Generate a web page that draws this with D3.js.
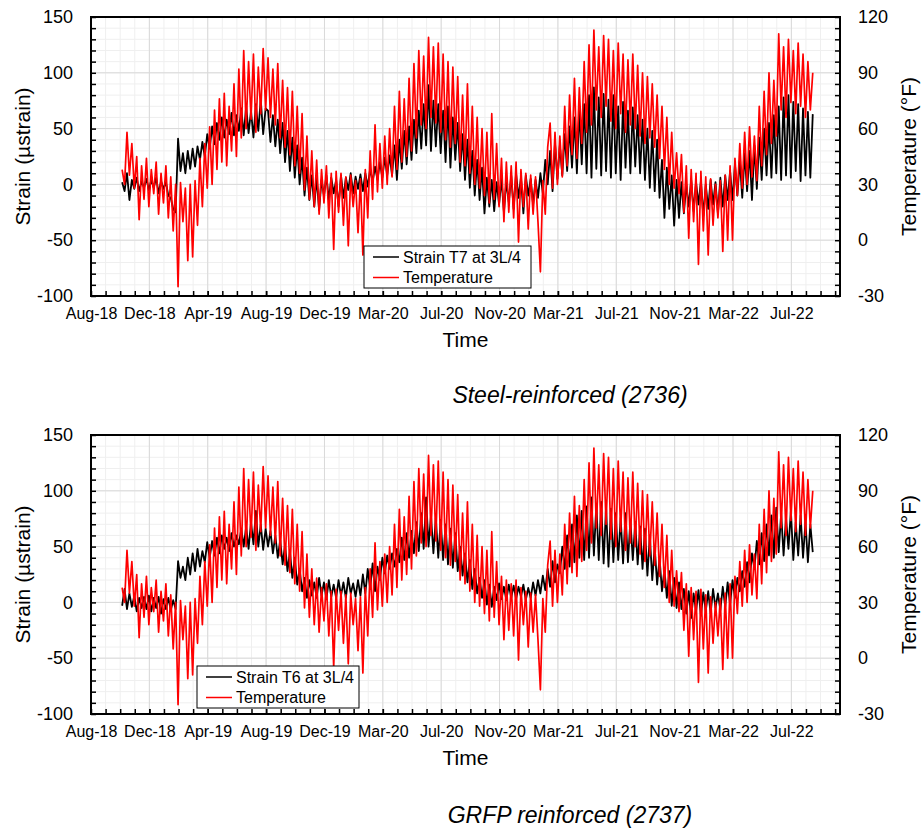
<!DOCTYPE html>
<html>
<head>
<meta charset="utf-8">
<script src="https://cdn.jsdelivr.net/npm/d3@7"></script>
<style>
  body { margin: 0; background: #fff; }
  svg { display: block; font-family: "Liberation Sans", Arial, sans-serif; }
</style>
</head>
<body>
<svg id="chart" width="921" height="831"></svg>
<script>
// x axis: day-based, ticks every 120 days from Aug 8 2018
const axisStart = "2018-08-08";
const axisDays = 1540;
const tickStepDays = 120;
const minorStepDays = 30;

// readings every 5 days from Oct 11 2018 (alternating peaks/troughs)
const sampleStart = "2018-10-11";
const sampleStepDays = 5;

const strainTicks = [-100, -50, 0, 50, 100, 150];
const tempTicks = [-30, 0, 30, 60, 90, 120];

// temperature (°F), same record in both panels
const temperature = [
  38, 30, 58, 35, 52, 28, 45, 11, 40, 22,
  44, 18, 38, 25, 42, 14, 36, 20, 40, 12,
  34, 5, 30, -25, 31, 10, 28, -11, 30, -9,
  32, 8, 44, 18, 52, 28, 61, 30, 70, 38,
  76, 42, 79, 40, 72, 48, 84, 45, 92, 55,
  102, 60, 96, 65, 100, 58, 93, 68, 103, 70,
  98, 66, 92, 62, 95, 55, 86, 50, 82, 46,
  80, 40, 72, 36, 68, 27, 56, 22, 48, 18,
  43, 14, 38, 20, 40, 12, 36, -5, 37, 15,
  36, 8, 34, -3, 35, 18, 32, 4, 33, -8,
  38, 12, 48, 22, 62, 26, 52, 28, 56, 30,
  60, 34, 72, 38, 80, 42, 76, 45, 87, 48,
  95, 55, 102, 62, 99, 60, 109, 66, 104, 63,
  106, 58, 100, 54, 96, 50, 93, 52, 88, 42,
  78, 40, 84, 36, 72, 30, 66, 28, 60, 24,
  58, 20, 68, 22, 52, 18, 44, 10, 42, 15,
  40, 12, 42, -1, 38, 18, 36, 6, 35, 14,
  34, 10, -17, 32, 14, 50, 63, 28, 58, 30,
  56, 34, 72, 40, 78, 46, 87, 44, 82, 52,
  96, 58, 105, 62, 113, 70, 104, 66, 110, 72,
  108, 64, 102, 60, 106, 68, 100, 58, 97, 62,
  100, 60, 94, 56, 90, 52, 88, 55, 84, 50,
  78, 44, 72, 38, 66, 30, 58, 28, 47, 25,
  46, 15, 40, 1, 38, 10, 36, -13, 37, 5,
  34, -8, 33, 8, 30, 12, 32, -6, 35, 0,
  40, 0, 44, 24, 52, 28, 58, 30, 61, 34,
  56, 32, 72, 40, 80, 46, 90, 52, 86, 56,
  111, 70, 104, 66, 108, 74, 102, 68, 106, 72,
  100, 66, 96, 70, 90
];

// strain T7 at 3L/4, steel-reinforced (µstrain)
const strainT7 = [
  2, -6, 10, -14, 4, -4, 6, -6, 3, -3,
  5, -5, 4, -3, 6, -8, 3, -4, 2, -10,
  -12, -22, -25, 41, 12, 28, 10, 30, 14, 32,
  16, 34, 22, 38, 25, 45, 32, 52, 36, 55,
  40, 60, 42, 58, 45, 64, 44, 62, 48, 68,
  44, 70, 46, 66, 42, 72, 48, 76, 45, 68,
  66, 38, 62, 34, 58, 28, 55, 20, 48, 12,
  42, 6, 35, 0, 24, -10, 15, -14, 8, -20,
  6, -23, 4, -10, 8, -14, 6, -8, 4, -20,
  8, -12, 6, -5, 10, -8, 7, -4, 9, -6,
  10, -2, 14, 2, 16, 4, 20, 6, 24, 8,
  26, 8, 35, 4, 40, 14, 48, 18, 52, 22,
  58, 28, 66, 32, 72, 35, 89, 30, 75, 34,
  72, 28, 66, 20, 70, 15, 60, 22, 55, 12,
  45, 4, 40, -3, 30, -10, 22, -14, 15, -26,
  6, -20, 4, -24, 2, -18, 5, -25, 3, -16,
  8, -22, 10, -12, 6, -26, 8, -10, 5, -18,
  4, -12, 10, -8, 22, 0, 30, -6, 37, 5,
  35, 8, 45, 12, 52, 15, 60, 10, 68, 18,
  72, 10, 80, 6, 87, 14, 78, 8, 81, 12,
  76, 6, 80, 10, 70, 4, 74, 15, 66, 10,
  69, 16, 62, 10, 58, 4, 50, -3, 48, -6,
  40, -12, 22, -30, 15, -22, 8, -37, 4, -30,
  2, -26, 0, -20, 4, -24, 2, -18, 3, -28,
  0, -22, 4, -18, 2, -26, 6, -20, 8, -14,
  12, -14, 18, -10, 22, -12, 28, -6, 30, -14,
  35, -4, 42, 4, 50, 8, 55, 6, 62, 10,
  70, 4, 78, 8, 80, 6, 74, 12, 72, 3,
  68, 8, 65, 6, 63
];

// strain T6 at 3L/4, GFRP-reinforced (µstrain)
const strainT6 = [
  -3, 12, -6, 8, -4, 6, -8, 4, -5, 5,
  -6, 6, -8, 4, -5, 5, -10, 3, -6, 4,
  -7, 2, -6, 37, 22, 32, 20, 40, 25, 44,
  28, 48, 32, 46, 36, 54, 40, 55, 42, 58,
  44, 60, 48, 58, 46, 62, 50, 60, 52, 66,
  50, 68, 48, 72, 52, 82, 50, 70, 47, 66,
  50, 64, 44, 60, 40, 56, 34, 52, 28, 46,
  22, 40, 16, 30, 10, 22, 4, 20, 6, 18,
  4, 22, 6, 18, 3, 20, 5, 16, 4, 20,
  6, 18, 4, 22, 8, 17, 5, 20, 6, 25,
  8, 30, 12, 35, 10, 32, 20, 40, 26, 42,
  30, 44, 32, 48, 36, 58, 38, 62, 40, 64,
  44, 72, 46, 80, 48, 94, 50, 78, 44, 76,
  40, 74, 38, 70, 34, 66, 31, 62, 28, 50,
  24, 44, 18, 38, 12, 30, 8, 22, 4, 20,
  -2, 16, -4, 14, 2, 17, 3, 14, 2, 16,
  4, 15, 3, 14, 5, 16, 2, 13, 4, 18,
  6, 20, 8, 24, 11, 30, 14, 37, 18, 34,
  26, 50, 30, 60, 32, 70, 36, 78, 40, 82,
  38, 86, 40, 94, 42, 88, 38, 90, 35, 86,
  32, 84, 36, 80, 38, 76, 35, 80, 36, 74,
  38, 72, 34, 68, 30, 66, 24, 60, 20, 50,
  16, 40, 10, 30, 4, 28, -3, 22, -5, 18,
  -6, 12, -10, 10, -14, 8, -8, 11, -12, 9,
  -8, 10, -10, 12, -5, 8, -7, 14, -4, 18,
  -2, 20, 4, 22, 10, 28, 14, 36, 18, 44,
  30, 55, 34, 62, 37, 70, 42, 78, 40, 85,
  45, 80, 42, 76, 48, 82, 38, 72, 42, 78,
  40, 72, 36, 70, 45
];

const panels = [
  { top: 17, strain: strainT7, name: "Strain T7 at 3L/4",
    legend: { x: 364, y: 246, w: 167 }, caption: "Steel-reinforced (2736)", captionY: 403 },
  { top: 435, strain: strainT6, name: "Strain T6 at 3L/4",
    legend: { x: 197, y: 666, w: 162 }, caption: "GRFP reinforced (2737)", captionY: 823 }
];

const DAY = 864e5;
const parse = d3.utcParse("%Y-%m-%d");
const t0 = parse(axisStart);
const s0 = parse(sampleStart);
const left = 91, right = 840, H = 279;

const x = d3.scaleUtc()
  .domain([t0, new Date(+t0 + axisDays * DAY)])
  .range([left, right]);

const majorDates = d3.range(0, axisDays, tickStepDays).map(d => new Date(+t0 + d * DAY));
const minorDates = d3.range(minorStepDays, axisDays, minorStepDays).map(d => new Date(+t0 + d * DAY));
const dates = temperature.map((_, i) => new Date(+s0 + i * sampleStepDays * DAY));

const svg = d3.select("#chart");

function styleText(g, size) {
  g.selectAll("text")
    .attr("font-family", "Liberation Sans, Arial, sans-serif")
    .attr("font-size", size)
    .attr("fill", "#000");
}

panels.forEach(p => {
  const bottom = p.top + H;
  const yS = d3.scaleLinear().domain([-100, 150]).range([bottom, p.top]);
  const yT = d3.scaleLinear().domain([-30, 120]).range([bottom, p.top]);
  const g = svg.append("g");

  // grid
  const grid = g.append("g");
  grid.selectAll(".vmin").data(minorDates).enter().append("line")
    .attr("x1", d => x(d)).attr("x2", d => x(d))
    .attr("y1", p.top).attr("y2", bottom)
    .attr("stroke", "#efefef").attr("stroke-width", 1);
  grid.selectAll(".hmin").data(d3.range(-90, 150, 10)).enter().append("line")
    .attr("x1", left).attr("x2", right)
    .attr("y1", d => yS(d)).attr("y2", d => yS(d))
    .attr("stroke", "#efefef").attr("stroke-width", 1);
  grid.selectAll(".vmaj").data(majorDates.slice(1)).enter().append("line")
    .attr("x1", d => x(d)).attr("x2", d => x(d))
    .attr("y1", p.top).attr("y2", bottom)
    .attr("stroke", "#d9d9d9").attr("stroke-width", 1);
  grid.selectAll(".hmaj").data(strainTicks.slice(1, -1)).enter().append("line")
    .attr("x1", left).attr("x2", right)
    .attr("y1", d => yS(d)).attr("y2", d => yS(d))
    .attr("stroke", "#d9d9d9").attr("stroke-width", 1);

  // series
  const strainLine = d3.line().x((d, i) => x(dates[i])).y(d => yS(d));
  const tempLine = d3.line().x((d, i) => x(dates[i])).y(d => yT(d));
  g.append("path").datum(p.strain)
    .attr("d", strainLine).attr("fill", "none")
    .attr("stroke", "#000").attr("stroke-width", 1.8).attr("stroke-linejoin", "round");
  g.append("path").datum(temperature)
    .attr("d", tempLine).attr("fill", "none")
    .attr("stroke", "#ff0000").attr("stroke-width", 1.7).attr("stroke-linejoin", "round");

  // minor ticks (inward)
  g.append("g").attr("transform", `translate(${left},0)`)
    .call(d3.axisLeft(yS).tickValues(d3.range(-100, 151, 10)).tickSize(-5).tickSizeOuter(0).tickFormat(""))
    .call(a => a.select(".domain").remove());
  g.append("g").attr("transform", `translate(${right},0)`)
    .call(d3.axisRight(yT).tickValues(d3.range(-30, 121, 6)).tickSize(-5).tickSizeOuter(0).tickFormat(""))
    .call(a => a.select(".domain").remove());
  g.append("g").attr("transform", `translate(0,${bottom})`)
    .call(d3.axisBottom(x).tickValues(minorDates.concat(majorDates)).tickSize(-5).tickSizeOuter(0).tickFormat(""))
    .call(a => a.select(".domain").remove());
  g.selectAll(".tick line").attr("stroke", "#000").attr("stroke-width", 1.5);

  // labels
  const yl = g.append("g").attr("transform", `translate(${left},0)`)
    .call(d3.axisLeft(yS).tickValues(strainTicks).tickSize(0).tickPadding(18).tickFormat(d => String(d)))
    .call(a => a.select(".domain").remove());
  styleText(yl, 18);
  const yr = g.append("g").attr("transform", `translate(${right},0)`)
    .call(d3.axisRight(yT).tickValues(tempTicks).tickSize(0).tickPadding(18).tickFormat(d => String(d)))
    .call(a => a.select(".domain").remove());
  styleText(yr, 18);
  const xl = g.append("g").attr("transform", `translate(0,${bottom})`)
    .call(d3.axisBottom(x).tickValues(majorDates).tickSize(0).tickPadding(12)
      .tickFormat(d3.utcFormat("%b-%y")))
    .call(a => a.select(".domain").remove());
  styleText(xl, 16);

  // frame
  g.append("rect")
    .attr("x", left).attr("y", p.top).attr("width", right - left).attr("height", H)
    .attr("fill", "none").attr("stroke", "#000").attr("stroke-width", 2);

  // titles
  g.append("text")
    .attr("transform", `translate(22,${p.top + H / 2}) rotate(-90)`)
    .attr("text-anchor", "middle").attr("dominant-baseline", "central")
    .attr("font-size", 21).text("Strain (µstrain)");
  g.append("text")
    .attr("transform", `translate(908,${p.top + H / 2}) rotate(-90)`)
    .attr("text-anchor", "middle").attr("dominant-baseline", "central")
    .attr("font-size", 21).text("Temperature (°F)");
  g.append("text")
    .attr("x", (left + right) / 2).attr("y", bottom + 51)
    .attr("text-anchor", "middle").attr("font-size", 21).text("Time");
  g.append("text")
    .attr("x", 570).attr("y", p.captionY)
    .attr("text-anchor", "middle").attr("font-size", 23).attr("font-style", "italic")
    .text(p.caption);

  // legend
  const L = p.legend;
  const lg = g.append("g").attr("transform", `translate(${L.x},${L.y})`);
  lg.append("rect").attr("width", L.w).attr("height", 42)
    .attr("fill", "#fff").attr("stroke", "#000").attr("stroke-width", 1);
  [[p.name, "#000"], ["Temperature", "#ff0000"]].forEach(([label, color], i) => {
    const yy = 11 + i * 20.5;
    lg.append("line").attr("x1", 9).attr("x2", 35).attr("y1", yy).attr("y2", yy)
      .attr("stroke", color).attr("stroke-width", 1.5);
    lg.append("text").attr("x", 39).attr("y", yy).attr("dominant-baseline", "central")
      .attr("font-size", 16).text(label);
  });
});
</script>
</body>
</html>
